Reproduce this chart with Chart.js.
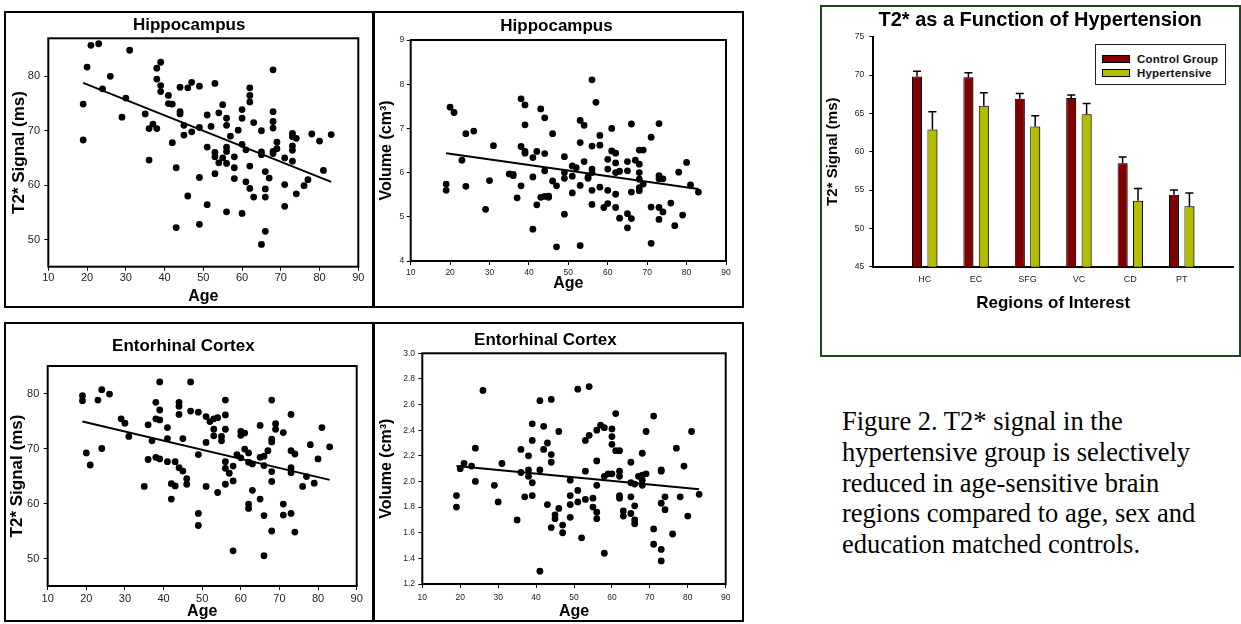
<!DOCTYPE html>
<html>
<head>
<meta charset="utf-8">
<script src="https://cdn.jsdelivr.net/npm/chart.js@4.4.1/dist/chart.umd.min.js"></script>
<style>
  body { margin: 0; background: #fff; width: 1241px; height: 624px; position: relative; overflow: hidden; font-family: "Liberation Sans", Arial, sans-serif; }
  .box { position: absolute; border: 2px solid #000; box-sizing: border-box; }
  canvas { position: absolute; }
  #legend { position: absolute; left: 1095px; top: 44px; width: 131px; height: 41px; border: 1.5px solid #222; box-sizing: border-box; background: #fff; }
  #legend .item { position: absolute; left: 6px; height: 14px; line-height: 14px; font-weight: bold; font-size: 11.5px; letter-spacing: 0.2px; color: #111; white-space: nowrap; }
  #legend .sw { display: inline-block; width: 26px; height: 6px; border: 1px solid #000; vertical-align: middle; margin-right: 7px; position: relative; top: -1px; }
  #caption { position: absolute; left: 842px; top: 406px; font-family: "Liberation Serif", "Times New Roman", serif; font-size: 26.5px; line-height: 30.8px; color: #000; white-space: nowrap; }
</style>
</head>
<body>
<div class="box" style="left:4px;top:11px;width:371px;height:297px"></div>
<div class="box" style="left:372px;top:11px;width:372px;height:297px"></div>
<div class="box" style="left:4px;top:322px;width:371px;height:300px"></div>
<div class="box" style="left:372px;top:322px;width:372px;height:300px"></div>
<div class="box" style="left:820px;top:5px;width:421px;height:352px;border-color:#1d4a1d"></div>

<canvas id="c1" width="367" height="293" style="left:6px;top:13px"></canvas>
<canvas id="c2" width="367" height="293" style="left:375px;top:13px"></canvas>
<canvas id="c3" width="367" height="296" style="left:6px;top:324px"></canvas>
<canvas id="c4" width="367" height="296" style="left:375px;top:324px"></canvas>
<canvas id="cb" width="418" height="347" style="left:823px;top:8px"></canvas>

<div id="legend">
  <div class="item" style="top:7px"><span class="sw" style="background:#800000"></span>Control Group</div>
  <div class="item" style="top:21px"><span class="sw" style="background:#b4bc00"></span>Hypertensive</div>
</div>

<div id="caption">Figure 2. T2* signal in the<br>hypertensive group is selectively<br>reduced in age-sensitive brain<br>regions compared to age, sex and<br>education matched controls.</div>

<script>
// ---- data ----
const ageTicks = [10, 20, 30, 40, 50, 60, 70, 80, 90];
const t2Ticks = [50, 60, 70, 80];
const hcVolTicks = [4, 5, 6, 7, 8, 9];
const ecVolTicks = [1.2, 1.4, 1.6, 1.8, 2.0, 2.2, 2.4, 2.6, 2.8, 3.0];
const fitAges = [19, 83];

// Hippocampus T2*
const hcT2Age = [
  19, 19, 20, 21, 23, 24, 26, 29, 30, 31,
  35, 36, 36, 37, 38, 38, 38, 39, 39, 39,
  41, 41, 42, 42, 43, 43, 44, 44, 44, 45,
  45, 46, 46, 47, 47, 49, 49, 49, 49, 51,
  51, 51, 52, 53, 53, 53, 53, 54, 54, 55,
  55, 56, 56, 56, 56, 56, 56, 57, 58, 58,
  58, 59, 60, 60, 60, 60, 61, 61, 62, 62,
  62, 62, 62, 63, 63, 65, 65, 65, 65, 66,
  66, 66, 66, 67, 68, 68, 68, 68, 68, 68,
  69, 69, 71, 71, 71, 73, 73, 73, 73, 73,
  74, 74, 76, 77, 78, 80, 81, 83
];
const hcT2 = [
  74.9, 68.3, 81.7, 85.7, 86.0, 77.7, 80.0, 72.5, 76.0, 84.8,
  73.1, 70.4, 64.6, 71.2, 70.4, 81.5, 79.5, 82.6, 78.3, 77.2,
  76.5, 75.0, 74.9, 67.8, 63.2, 52.2, 78.0, 73.5, 73.1, 71.0,
  69.2, 58.0, 77.9, 78.9, 69.8, 78.2, 70.6, 61.4, 52.8, 72.9,
  67.0, 56.4, 70.8, 78.7, 66.0, 65.2, 62.1, 73.3, 64.1, 74.8,
  65.0, 72.3, 71.0, 67.0, 66.2, 64.0, 55.1, 69.0, 65.2, 63.2,
  61.2, 70.1, 73.9, 72.3, 67.5, 54.8, 66.5, 60.6, 77.9, 76.5,
  75.3, 63.5, 59.4, 71.5, 57.8, 70.0, 66.1, 65.6, 49.1, 62.5,
  59.3, 57.8, 51.5, 61.3, 81.2, 73.5, 71.7, 70.5, 66.2, 65.8,
  67.9, 66.7, 65.0, 60.1, 56.1, 69.5, 68.9, 67.2, 66.4, 64.4,
  68.6, 58.4, 59.9, 61.0, 69.4, 68.1, 62.7, 69.3
];
const hcT2Fit = [78.8, 60.6];

// Hippocampus volume
const hcVolAge = [
  19, 19, 20, 21, 23, 24, 24, 26, 29, 30,
  31, 35, 36, 36, 37, 38, 38, 38, 39, 39,
  39, 39, 41, 41, 41, 42, 42, 43, 43, 44,
  44, 44, 44, 45, 45, 46, 46, 47, 47, 49,
  49, 49, 49, 51, 51, 51, 52, 53, 53, 53,
  53, 54, 54, 55, 55, 56, 56, 56, 56, 56,
  56, 57, 58, 58, 58, 59, 60, 60, 60, 60,
  61, 61, 62, 62, 62, 62, 62, 63, 63, 65,
  65, 65, 65, 66, 66, 66, 67, 68, 68, 68,
  68, 68, 68, 69, 69, 71, 71, 71, 73, 73,
  73, 73, 73, 74, 74, 76, 77, 78, 79, 80,
  81, 83
];
const hcVol = [
  5.60, 5.74, 7.48, 7.36, 6.28, 6.88, 5.69, 6.94, 5.17, 5.82,
  6.61, 5.97, 5.93, 5.96, 5.43, 7.67, 6.59, 5.70, 7.53, 7.08,
  6.48, 6.44, 6.34, 5.90, 4.72, 6.48, 5.27, 7.44, 5.44, 7.24,
  6.43, 6.04, 5.46, 5.47, 5.44, 6.88, 5.81, 5.70, 4.32, 6.36,
  6.00, 5.87, 5.06, 6.15, 5.92, 5.54, 6.11, 7.18, 6.68, 5.71,
  4.35, 7.07, 6.25, 5.87, 5.90, 8.10, 6.60, 6.08, 6.00, 5.60,
  5.28, 7.59, 6.84, 6.62, 5.67, 5.21, 6.30, 6.08, 5.60, 5.30,
  7.00, 6.49, 6.44, 6.22, 6.00, 5.51, 5.21, 6.03, 4.97, 6.25,
  6.04, 5.07, 4.75, 7.10, 5.56, 4.96, 6.28, 6.51, 6.19, 6.00,
  5.85, 5.66, 5.59, 6.51, 5.74, 6.80, 5.22, 4.40, 7.11, 5.93,
  5.86, 5.21, 4.94, 5.86, 5.11, 5.31, 4.80, 6.01, 5.04, 6.23,
  5.72, 5.56
];
const hcVolFit = [6.44, 5.63];

// Entorhinal cortex T2*
const ecT2Age = [
  19, 19, 20, 21, 23, 24, 24, 26, 29, 30,
  31, 35, 36, 36, 37, 38, 38, 38, 39, 39,
  39, 39, 41, 41, 41, 42, 42, 43, 43, 44,
  44, 44, 44, 45, 45, 46, 46, 47, 47, 49,
  49, 49, 49, 51, 51, 51, 52, 53, 53, 53,
  54, 54, 55, 55, 56, 56, 56, 56, 56, 56,
  57, 58, 58, 58, 59, 60, 60, 60, 61, 61,
  62, 62, 62, 62, 63, 63, 65, 65, 65, 66,
  66, 66, 66, 67, 68, 68, 68, 68, 68, 68,
  69, 69, 71, 71, 71, 73, 73, 73, 73, 73,
  74, 74, 76, 77, 78, 79, 80, 81, 83
];
const ecT2 = [
  79.6, 78.7, 69.2, 67.0, 78.8, 80.7, 70.0, 79.9, 75.4, 74.6,
  72.2, 63.1, 74.3, 68.0, 71.4, 78.4, 75.4, 68.4, 82.1, 75.2,
  68.1, 77.0, 73.8, 71.8, 67.6, 63.6, 60.8, 63.2, 67.6, 78.4,
  77.7, 76.2, 66.5, 65.9, 71.8, 64.5, 63.5, 82.1, 76.8, 76.6,
  68.9, 58.2, 56.0, 75.8, 71.1, 63.1, 74.9, 75.4, 73.5, 72.3,
  75.6, 62.0, 72.2, 71.4, 78.8, 76.1, 73.5, 67.6, 66.4, 63.5,
  65.5, 66.8, 64.1, 51.4, 68.9, 73.1, 72.4, 68.3, 72.8, 69.9,
  69.2, 67.5, 59.9, 59.1, 67.2, 62.4, 74.2, 68.4, 60.8, 68.6,
  66.9, 57.8, 50.5, 69.6, 78.8, 71.7, 71.2, 65.8, 64.0, 55.0,
  73.5, 74.5, 72.9, 59.9, 57.9, 76.2, 69.6, 66.5, 65.6, 58.2,
  69.0, 54.8, 63.1, 64.9, 70.7, 63.7, 68.1, 73.8, 70.3
];
const ecT2Fit = [74.9, 64.3];

// Entorhinal cortex volume
const ecVolAge = [
  19, 19, 20, 21, 23, 24, 24, 26, 29, 30,
  31, 35, 36, 36, 37, 38, 38, 38, 39, 39,
  39, 39, 41, 41, 41, 42, 42, 43, 43, 44,
  44, 44, 44, 45, 45, 46, 46, 47, 47, 49,
  49, 49, 49, 51, 51, 51, 52, 53, 53, 53,
  54, 54, 55, 55, 56, 56, 56, 56, 56, 57,
  58, 58, 58, 59, 60, 60, 60, 60, 61, 61,
  62, 62, 62, 62, 62, 63, 63, 65, 65, 65,
  65, 66, 66, 66, 66, 67, 68, 68, 68, 68,
  69, 69, 71, 71, 71, 73, 73, 73, 73, 73,
  74, 74, 76, 77, 78, 79, 80, 81, 83
];
const ecVol = [
  1.89, 1.80, 2.10, 2.14, 2.12, 2.26, 2.00, 2.71, 1.97, 1.84,
  2.14, 1.70, 2.25, 2.07, 1.88, 2.20, 2.09, 2.04, 2.45, 2.32,
  1.99, 1.89, 2.63, 2.09, 1.30, 2.43, 2.25, 2.30, 1.82, 2.64,
  2.21, 2.15, 1.64, 1.74, 1.71, 2.39, 1.79, 1.66, 1.60, 2.01,
  1.89, 1.82, 1.72, 2.72, 1.93, 1.84, 1.56, 2.32, 2.08, 1.86,
  2.74, 2.36, 1.87, 1.80, 2.40, 2.16, 1.97, 1.76, 1.71, 2.44,
  2.42, 2.04, 1.44, 2.06, 2.41, 2.35, 2.29, 2.06, 2.53, 2.24,
  2.24, 2.08, 2.04, 1.89, 1.87, 1.77, 1.73, 2.15, 1.99, 1.88,
  1.75, 1.98, 1.81, 1.70, 1.67, 2.04, 2.22, 2.05, 2.01, 1.97,
  2.39, 2.06, 2.51, 1.63, 1.51, 2.09, 2.08, 1.83, 1.47, 1.38,
  1.88, 1.78, 1.59, 2.26, 1.88, 2.12, 1.73, 2.39, 1.90
];
const ecVolFit = [2.12, 1.94];

// Bar chart: T2* by region
const regions = ['HC', 'EC', 'SFG', 'VC', 'CD', 'PT'];
const controlMean = [69.8, 69.7, 66.9, 67.0, 58.5, 54.4];
const controlSE = [0.7, 0.6, 0.7, 0.4, 0.8, 0.6];
const hyperMean = [62.9, 66.0, 63.3, 64.9, 53.6, 52.9];
const hyperSE = [2.3, 1.7, 1.4, 1.4, 1.6, 1.7];
const barTicks = [45, 50, 55, 60, 65, 70, 75];

// ---- helpers ----
const FAMILY = '"Liberation Sans", Arial, sans-serif';

const frame = {
  id: 'frame',
  afterDatasetsDraw(chart) {
    const a = chart.chartArea, c = chart.ctx;
    c.save();
    c.strokeStyle = '#000';
    c.lineWidth = 2;
    c.strokeRect(a.left, a.top, a.right - a.left, a.bottom - a.top);
    c.restore();
  }
};

// nudge the chart title sideways (the originals are not centred on the canvas)
const titleShift = {
  id: 'titleShift',
  afterLayout(chart, args, opts) {
    const t = chart.titleBlock;
    if (t && opts.dx) {
      t.left += 2 * opts.dx;
    }
  }
};

function toPoints(xs, ys) {
  return xs.map((x, i) => ({ x: x, y: ys[i] }));
}

// g: canvas-space layout of the plot area and text centres
function scatterChart(id, g, ages, vals, fit, yMin, yMax, yTicks, title, yTitle) {
  const tLh = 17 * 1.2;
  const yLh = g.yTitleSize * 1.2;
  const canvas = document.getElementById(id);
  const H = canvas.height, W = canvas.width;
  return new Chart(canvas, {
    type: 'scatter',
    data: {
      datasets: [
        {
          data: toPoints(ages, vals),
          pointRadius: 3.4,
          pointBackgroundColor: '#000',
          pointBorderWidth: 0
        },
        {
          data: toPoints(fitAges, fit),
          showLine: true,
          pointRadius: 0,
          borderColor: '#000',
          borderWidth: 2
        }
      ]
    },
    options: {
      responsive: false,
      animation: false,
      layout: { autoPadding: false, padding: { left: 0, right: W - g.right, top: 0, bottom: 0 } },
      plugins: {
        legend: { display: false },
        tooltip: { enabled: false },
        titleShift: { dx: g.titleDx },
        title: {
          display: true,
          text: title,
          color: '#000',
          font: { family: FAMILY, size: 17, weight: 'bold' },
          padding: { top: g.titleY - tLh / 2, bottom: g.top - (g.titleY - tLh / 2) - tLh }
        }
      },
      scales: {
        x: {
          type: 'linear',
          min: 10, max: 90,
          afterBuildTicks: s => { s.ticks = ageTicks.map(v => ({ value: v })); },
          afterFit: s => { s.height = H - g.bottom; },
          border: { display: false },
          grid: { drawOnChartArea: false, color: '#000', tickLength: 4 },
          ticks: { color: '#222', padding: g.xPad, maxRotation: 0, font: { family: FAMILY, size: g.tickSize } },
          title: {
            display: true, text: 'Age', color: '#000',
            font: { family: FAMILY, size: 16, weight: 'bold', lineHeight: 1 },
            padding: { top: 0, bottom: H - g.ageY - 8 }
          }
        },
        y: {
          min: yMin, max: yMax,
          afterBuildTicks: s => { s.ticks = yTicks.map(v => ({ value: v })); },
          afterFit: s => { s.width = g.left; },
          border: { display: false },
          grid: { drawOnChartArea: false, color: '#000', tickLength: 4 },
          ticks: {
            color: '#222', padding: g.yPad, font: { family: FAMILY, size: g.tickSize },
            callback: v => g.decimals ? v.toFixed(g.decimals) : v
          },
          title: {
            display: true, text: yTitle, color: '#000',
            font: { family: FAMILY, size: g.yTitleSize, weight: 'bold' },
            padding: { top: g.yTitleX - yLh / 2, bottom: 0 }
          }
        }
      }
    },
    plugins: [frame, titleShift]
  });
}

scatterChart('c1',
  { left: 42.3, right: 352.3, top: 25.3, bottom: 253.7, titleY: 12.7, titleDx: 7, yTitleX: 13, ageY: 283.7,
    xPad: 1, yPad: 4.3, tickSize: 11, yTitleSize: 17, decimals: 0 },
  hcT2Age, hcT2, hcT2Fit, 45, 87, t2Ticks, 'Hippocampus', 'T2* Signal (ms)');

scatterChart('c2',
  { left: 35.7, right: 351, top: 27, bottom: 248, titleY: 13.7, titleDx: 6, yTitleX: 11.7, ageY: 270.3,
    xPad: 2.6, yPad: 2.4, tickSize: 8.5, yTitleSize: 16, decimals: 0 },
  hcVolAge, hcVol, hcVolFit, 4, 9, hcVolTicks, 'Hippocampus', 'Volume (cm³)');

scatterChart('c3',
  { left: 41.7, right: 350.7, top: 42, bottom: 262, titleY: 22.7, titleDx: 2, yTitleX: 11.7, ageY: 287.7,
    xPad: 2.7, yPad: 4.4, tickSize: 11, yTitleSize: 17, decimals: 0 },
  ecT2Age, ecT2, ecT2Fit, 45, 85, t2Ticks, 'Entorhinal Cortex', 'T2* Signal (ms)');

scatterChart('c4',
  { left: 47.3, right: 350.7, top: 29.3, bottom: 260, titleY: 16, titleDx: -5, yTitleX: 11.7, ageY: 287.7,
    xPad: 4.2, yPad: 3.3, tickSize: 8.5, yTitleSize: 16, decimals: 1 },
  ecVolAge, ecVol, ecVolFit, 1.2, 3.0, ecVolTicks, 'Entorhinal Cortex', 'Volume (cm³)');

// ---- bar chart ----
const barShadow = {
  id: 'barShadow',
  beforeDatasetsDraw(chart) {
    const c = chart.ctx;
    c.save();
    c.shadowColor = 'rgba(0,0,0,0.38)';
    c.shadowOffsetX = 3;
    c.shadowOffsetY = 0;
    c.shadowBlur = 0;
  },
  afterDatasetsDraw(chart) { chart.ctx.restore(); }
};

const errorBars = {
  id: 'errorBars',
  afterDatasetsDraw(chart) {
    const c = chart.ctx, ys = chart.scales.y;
    const errs = [controlSE, hyperSE];
    c.save();
    c.strokeStyle = '#000';
    c.lineWidth = 1.5;
    chart.data.datasets.forEach((ds, di) => {
      chart.getDatasetMeta(di).data.forEach((el, i) => {
        const v = ds.data[i];
        if (v == null) return;
        const top = ys.getPixelForValue(v + errs[di][i - 1]);
        c.beginPath();
        c.moveTo(el.x, el.y);
        c.lineTo(el.x, top);
        c.moveTo(el.x - 4, top);
        c.lineTo(el.x + 4, top);
        c.stroke();
      });
    });
    c.restore();
  }
};

(function () {
  const canvas = document.getElementById('cb');
  const W = canvas.width, H = canvas.height;
  const g = { left: 50.3, right: 410.3, top: 28.7, bottom: 258.7 };
  const labels = [''].concat(regions, ['']);
  new Chart(canvas, {
    type: 'bar',
    data: {
      labels: labels,
      datasets: [
        {
          label: 'Control Group',
          data: [null].concat(controlMean, [null]),
          backgroundColor: '#800000',
          borderColor: '#000',
          borderWidth: 1
        },
        {
          label: 'Hypertensive',
          data: [null].concat(hyperMean, [null]),
          backgroundColor: '#b4bc00',
          borderColor: '#000',
          borderWidth: 1
        }
      ]
    },
    options: {
      responsive: false,
      animation: false,
      categoryPercentage: 0.6,
      barPercentage: 0.65,
      layout: { autoPadding: false, padding: { left: 0, right: W - g.right, top: 0, bottom: 0 } },
      plugins: {
        legend: { display: false },
        tooltip: { enabled: false },
        titleShift: { dx: 12 },
        title: {
          display: true,
          text: 'T2* as a Function of Hypertension',
          color: '#000',
          font: { family: FAMILY, size: 20, weight: 'bold' },
          padding: { top: 0, bottom: g.top - 20 * 1.2 }
        }
      },
      scales: {
        x: {
          offset: false,
          afterFit: s => { s.height = H - g.bottom; },
          border: { display: true, color: '#000', width: 2 },
          grid: { display: false, drawTicks: false },
          ticks: { color: '#222', padding: 7.9, maxRotation: 0, autoSkip: false, font: { family: FAMILY, size: 9 } },
          title: {
            display: true, text: 'Regions of Interest', color: '#000',
            font: { family: FAMILY, size: 17, weight: 'bold' },
            padding: { top: 0, bottom: H - 295.3 - 10.2 }
          }
        },
        y: {
          min: 45, max: 75,
          afterBuildTicks: s => { s.ticks = barTicks.map(v => ({ value: v })); },
          afterFit: s => { s.width = g.left; },
          border: { display: true, color: '#000', width: 2 },
          grid: { drawOnChartArea: false, color: '#000', tickLength: 4 },
          ticks: { color: '#222', padding: 5, font: { family: FAMILY, size: 8.5 } },
          title: {
            display: true, text: 'T2* Signal (ms)', color: '#000',
            font: { family: FAMILY, size: 15, weight: 'bold' },
            padding: { top: 1.3, bottom: 0 }
          }
        }
      }
    },
    plugins: [barShadow, errorBars, titleShift]
  });
})();
</script>
</body>
</html>
